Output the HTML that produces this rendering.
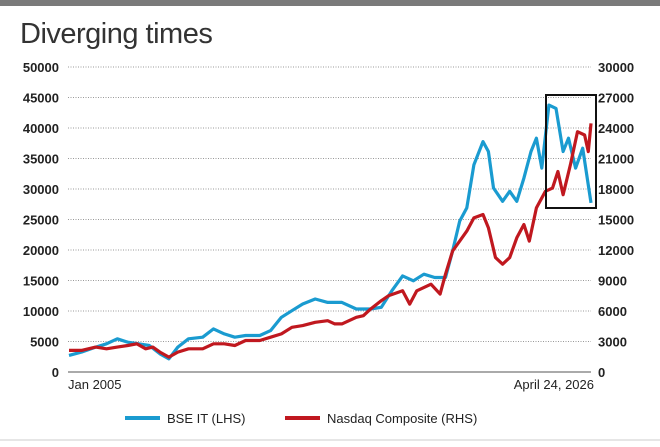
<!DOCTYPE html>
<html><head><meta charset="utf-8"><style>
body{margin:0;background:#fff;width:660px;height:442px;overflow:hidden;font-family:"Liberation Sans",sans-serif}
</style></head><body>
<svg width="660" height="442">
<rect x="0" y="0" width="660" height="6" fill="#7a7a7a"/>
<text x="20" y="43" font-size="29" fill="#333" font-weight="300" style="letter-spacing:-0.5px">Diverging times</text>
<g id="grid"></g><g id="lines"></g>
<rect x="546" y="95" width="50" height="113" fill="none" stroke="#111" stroke-width="2"/>
<text x="68" y="389" font-size="13" fill="#222">Jan 2005</text>
<text x="594" y="389" font-size="13" fill="#222" text-anchor="end">April 24, 2026</text>
<line x1="125" y1="418" x2="160" y2="418" stroke="#1a9bd0" stroke-width="4"/>
<text x="167" y="423" font-size="13" fill="#222">BSE IT (LHS)</text>
<line x1="285" y1="418" x2="320" y2="418" stroke="#c0181f" stroke-width="4"/>
<text x="327" y="423" font-size="13" fill="#222">Nasdaq Composite (RHS)</text>
<line x1="0" y1="440" x2="660" y2="440" stroke="#ccc" stroke-width="1"/>
</svg>
<script>
const leftTicks=[0,5000,10000,15000,20000,25000,30000,35000,40000,45000,50000];
const rightTicks=[0,3000,6000,9000,12000,15000,18000,21000,24000,27000,30000];
const bseDates=[2005.0,2005.51,2006.09,2006.53,2006.97,2007.40,2007.84,2008.28,2008.71,2009.08,2009.44,2009.88,2010.46,2010.90,2011.34,2011.77,2012.21,2012.79,2013.23,2013.67,2014.10,2014.54,2015.05,2015.56,2016.14,2016.73,2017.31,2017.75,2018.18,2018.62,2019.06,2019.49,2019.93,2020.37,2020.66,2020.95,2021.24,2021.53,2021.90,2022.12,2022.33,2022.70,2022.99,2023.28,2023.57,2023.86,2024.08,2024.30,2024.59,2024.88,2025.17,2025.39,2025.68,2025.97,2026.31];
const bseValues=[2720,3260,4080,4620,5440,4890,4620,4350,2990,2170,4080,5440,5710,7070,6250,5710,5980,5980,6790,8970,10050,11140,11960,11410,11410,10330,10330,10600,13320,15760,14950,16030,15490,15490,19840,24730,26900,33970,37770,36140,30160,27990,29620,27990,31790,36140,38320,33430,43750,43210,36140,38320,33430,36690,27720];
const ndqDates=[2005.0,2005.51,2006.09,2006.53,2006.97,2007.40,2007.77,2008.13,2008.42,2008.71,2009.08,2009.44,2009.88,2010.46,2010.90,2011.34,2011.77,2012.21,2012.79,2013.23,2013.67,2014.10,2014.54,2015.05,2015.56,2015.85,2016.14,2016.73,2017.02,2017.31,2017.75,2018.04,2018.62,2018.91,2019.20,2019.78,2020.15,2020.37,2020.66,2020.95,2021.24,2021.53,2021.90,2022.12,2022.41,2022.70,2022.99,2023.28,2023.57,2023.79,2024.08,2024.45,2024.74,2024.96,2025.17,2025.47,2025.76,2026.05,2026.20,2026.31];
const ndqValues=[2120,2120,2450,2280,2450,2610,2770,2280,2450,1960,1470,1960,2280,2280,2770,2770,2610,3100,3100,3420,3750,4400,4560,4890,5050,4730,4730,5380,5540,6190,7010,7500,7990,6680,7990,8640,7660,9620,11900,12880,13860,15160,15490,14180,11250,10600,11250,13200,14510,12880,16140,17770,18090,19720,17440,20380,23640,23310,21680,24450];
const NS='http://www.w3.org/2000/svg';
const X0=69,X1=591,Y0=372,Y1=67,T0=2005.0,T1=2026.31;
const xs=t=>X0+(t-T0)/(T1-T0)*(X1-X0);
const yl=v=>Y0-v/50000*(Y0-Y1);
const yr=v=>Y0-v/30000*(Y0-Y1);
const grid=document.getElementById('grid'),lines=document.getElementById('lines');
function mk(tag,a){const e=document.createElementNS(NS,tag);for(const k in a)e.setAttribute(k,a[k]);return e;}
leftTicks.forEach((v,i)=>{
 const y=yl(v);
 const l=mk('line',{x1:68,x2:591,y1:y,y2:y,stroke:v===0?'#555':'#999','stroke-width':1,'stroke-dasharray':v===0?'':'1,1.5'});
 
 
 grid.appendChild(l);
 const t=mk('text',{x:59,y:y+5,'font-size':13,'text-anchor':'end',fill:'#222','font-weight':'bold'});
 t.textContent=v;
 
 
 grid.appendChild(t);
 const r=mk('text',{x:598,y:yr(rightTicks[i])+5,'font-size':13,fill:'#222','font-weight':'bold'});
 r.textContent=rightTicks[i];
 
 
 grid.appendChild(r);
});
function series(d,v,yf,col,name){
 const p=mk('path',{d:d.map((t,i)=>(i?'L':'M')+xs(t).toFixed(1)+','+yf(v[i]).toFixed(1)).join(''),fill:'none',stroke:col,'stroke-width':3.2,'stroke-linejoin':'round'});
 
 
 lines.appendChild(p);
}
series(bseDates,bseValues,yl,'#1a9bd0','bse-it-line');
series(ndqDates,ndqValues,yr,'#c0181f','nasdaq-line');
</script>
</body></html>
